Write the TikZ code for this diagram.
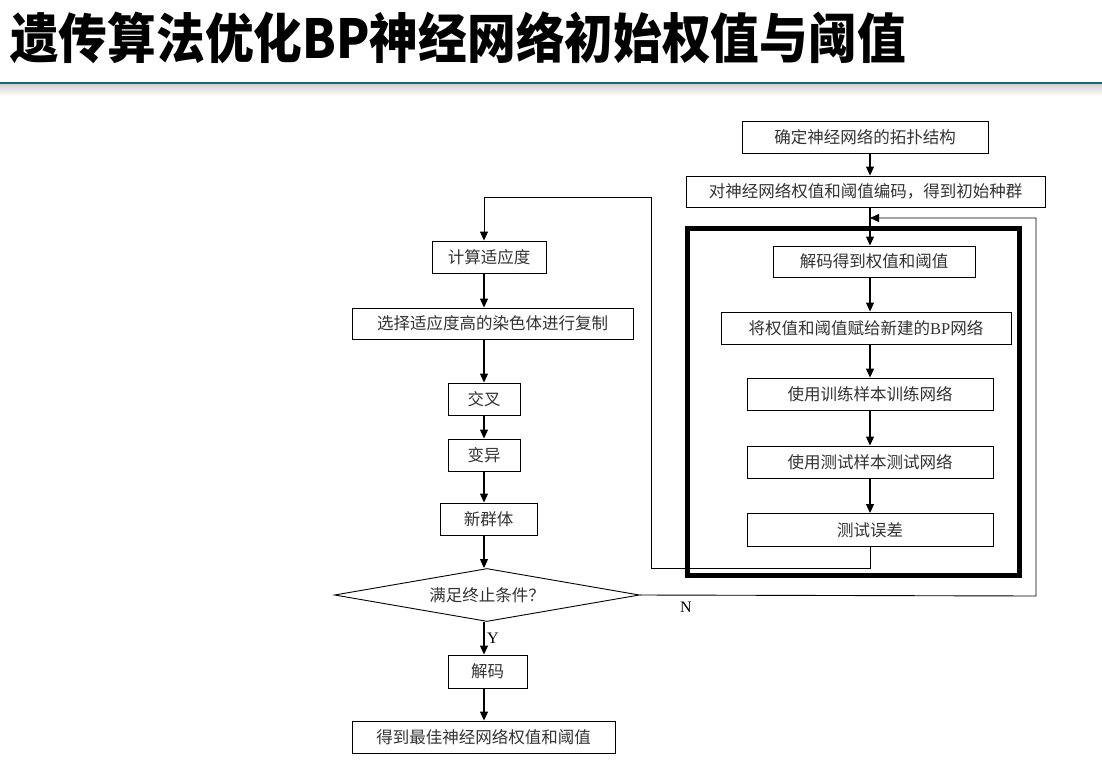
\documentclass[tikz,border=0pt]{standalone}
\usepackage{fontspec}
\setmainfont{Liberation Serif}
\newfontfamily\cjk{Noto Sans CJK SC}
\usetikzlibrary{arrows.meta,shapes.geometric}
\tikzset{
  box/.style={draw=black,line width=0.9pt,fill=white,inner sep=0pt,font=\cjk\fontsize{16.5}{19}\selectfont,text=black!80},
  arr/.style={line width=1.1pt,-{Triangle[length=9pt,width=8pt]}},
  ln/.style={line width=0.9pt},
  lab/.style={font=\fontsize{16}{18}\selectfont,inner sep=0pt}
}
\begin{document}
\begin{tikzpicture}[x=1pt,y=-1pt]
\useasboundingbox (0,0) rectangle (1102,765);
\fill[white] (0,0) rectangle (1102,765);
% title
\node[anchor=west,inner sep=0pt,font=\cjk\bfseries\fontsize{48}{52}\selectfont] (title) at (10,38) {\scalebox{1.015}[1.12]{遗传算法优化BP神经网络初始权值与阈值}};
\shade[top color=black!18,bottom color=white] (0,84) rectangle (1102,96);
\draw[line width=2.2pt,color={rgb,255:red,31;green,100;blue,118}] (0,83) -- (1102,83);
% right column
\node[box,minimum width=246pt,minimum height=32pt] (t1) at (865,137) {确定神经网络的拓扑结构};
\node[box,minimum width=359pt,minimum height=31pt] (t2) at (865.5,191.5) {对神经网络权值和阈值编码，得到初始种群};
\draw[line width=5pt] (687,228) rectangle (1019,575);
\coordinate (ax) at (870,0);
\node[box,minimum width=202pt,minimum height=31pt] (d1) at (874,261.5) {解码得到权值和阈值};
\node[box,minimum width=290pt,minimum height=32pt] (d2) at (866,328) {将权值和阈值赋给新建的{\rmfamily BP}网络};
\node[box,minimum width=246pt,minimum height=32pt] (d3) at (870,394) {使用训练样本训练网络};
\node[box,minimum width=246pt,minimum height=32pt] (d4) at (870,462) {使用测试样本测试网络};
\node[box,minimum width=246pt,minimum height=33pt] (d5) at (870,530) {测试误差};
\draw[arr] (t1.south -| ax) -- (t2.north -| ax);
\draw[arr] (t2.south -| ax) -- (d1.north -| ax);
\draw[arr] (d1.south -| ax) -- (d2.north -| ax);
\draw[arr] (d2.south -| ax) -- (d3.north -| ax);
\draw[arr] (d3.south -| ax) -- (d4.north -| ax);
\draw[arr] (d4.south -| ax) -- (d5.north -| ax);
% left column
\coordinate (lx) at (484,0);
\node[box,minimum width=114pt,minimum height=32pt] (l1) at (489,257) {计算适应度};
\node[box,minimum width=281pt,minimum height=31pt] (l2) at (492.5,323.5) {选择适应度高的染色体进行复制};
\node[box,minimum width=72pt,minimum height=32pt] (l3) at (484,399) {交叉};
\node[box,minimum width=72pt,minimum height=32pt] (l4) at (484,455) {变异};
\node[box,minimum width=97pt,minimum height=32pt] (l5) at (488.5,519) {新群体};
\node[box,diamond,aspect=5.75,minimum width=305pt,minimum height=53pt] (dia) at (487,595) {满足终止条件？};
\node[box,minimum width=79pt,minimum height=33pt] (l6) at (487.5,671.5) {解码};
\node[box,minimum width=263pt,minimum height=32pt] (l7) at (483.5,737) {得到最佳神经网络权值和阈值};
\draw[arr] (l1.south -| lx) -- (l2.north -| lx);
\draw[arr] (l2.south -| lx) -- (l3.north -| lx);
\draw[arr] (l3.south -| lx) -- (l4.north -| lx);
\draw[arr] (l4.south -| lx) -- (l5.north -| lx);
\draw[arr] (l5.south -| lx) -- (dia.north -| lx);
\draw[arr] (dia.south -| lx) -- (l6.north -| lx);
\draw[arr] (l6.south -| lx) -- (l7.north -| lx);
% loop from test error back to fitness
\draw[ln,-{Triangle[length=9pt,width=8pt]}] (d5.south -| ax) -- ++(0,21) -| (651,197) -| (l1.north -| lx);
% N loop
\coordinate (nr) at (1036,596);
\draw[ln,-{Triangle[length=9pt,width=8pt]}] (dia.east) -- (nr) -- (1036,218) -- (ax |- 0,218);
\node[lab] (ylab) at (493,638) {Y};
\node[lab] (nlab) at (686,607) {N};
\end{tikzpicture}
\end{document}
